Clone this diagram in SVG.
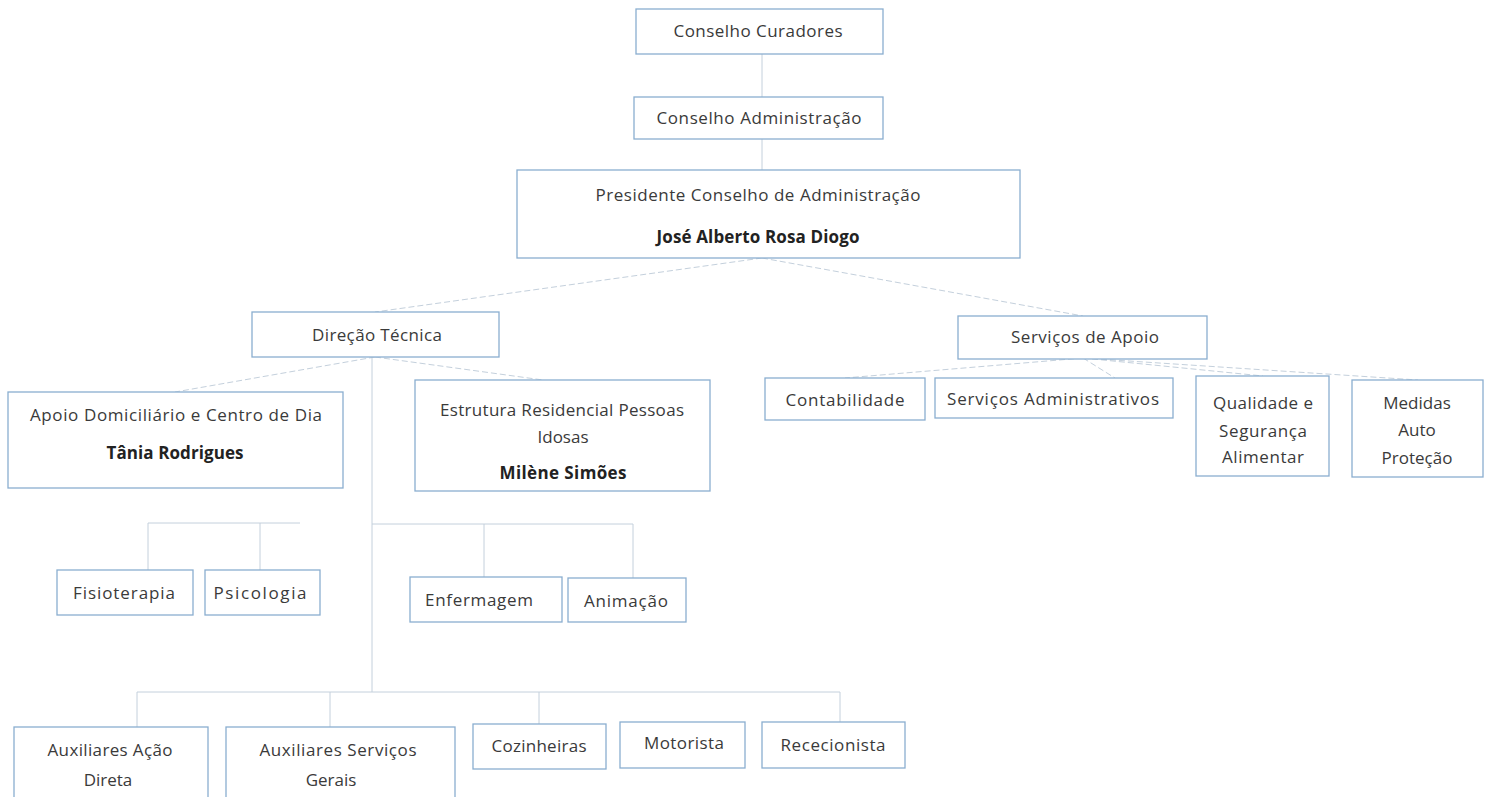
<svg xmlns="http://www.w3.org/2000/svg" width="1490" height="797" viewBox="0 0 1490 797">
<style>
.box{fill:#ffffff;stroke:#8aaed0;stroke-width:1.3}
.t{font-family:"Open Sans","Liberation Sans",sans-serif;font-size:17px;fill:#3a3a3a;text-anchor:middle}
.b{font-weight:bold;fill:#222}
.c{stroke:#c4d0dc;stroke-width:1;fill:none}
.cd{stroke:#c4d0dc;stroke-width:1;fill:none;stroke-dasharray:6 3}
</style>
<rect width="1490" height="797" fill="#ffffff"/>
<g id="connectors">
<line class="c" x1="762" y1="54" x2="762" y2="97"/>
<line class="c" x1="762" y1="139" x2="762" y2="170"/>
<line class="cd" x1="762" y1="258" x2="375" y2="312"/>
<line class="cd" x1="762" y1="258" x2="1083" y2="316"/>
<line class="cd" x1="375" y1="357" x2="175" y2="392"/>
<line class="cd" x1="375" y1="357" x2="543" y2="380"/>
<line class="c" x1="372" y1="357" x2="372" y2="692"/>
<polyline class="c" points="148,570 148,523 300,523"/>
<line class="c" x1="260" y1="523" x2="260" y2="570"/>
<polyline class="c" points="372,524 633,524 633,578"/>
<line class="c" x1="484" y1="524" x2="484" y2="577"/>
<polyline class="c" points="137,727 137,692 840,692 840,722"/>
<line class="c" x1="330" y1="692" x2="330" y2="727"/>
<line class="c" x1="539" y1="692" x2="539" y2="724"/>
<line class="cd" x1="1083" y1="358" x2="845" y2="378"/>
<line class="cd" x1="1083" y1="358" x2="1115" y2="378"/>
<line class="cd" x1="1083" y1="358" x2="1263" y2="376"/>
<line class="cd" x1="1083" y1="358" x2="1418" y2="380"/>
</g>
<g id="conselho-curadores"><rect class="box" x="636" y="9" width="247" height="45"/><text class="t" x="758" y="37" textLength="169" lengthAdjust="spacing">Conselho Curadores</text></g>
<g id="conselho-administracao"><rect class="box" x="634" y="97" width="249" height="42"/><text class="t" x="759" y="124" textLength="205" lengthAdjust="spacing">Conselho Administração</text></g>
<g id="presidente"><rect class="box" x="517" y="170" width="503" height="88"/><text class="t" x="758" y="201" textLength="325" lengthAdjust="spacing">Presidente Conselho de Administração</text><text class="t b" x="758" y="243" textLength="203" lengthAdjust="spacing">José Alberto Rosa Diogo</text></g>
<g id="direcao-tecnica"><rect class="box" x="252" y="312" width="247" height="45"/><text class="t" x="377" y="341" textLength="130" lengthAdjust="spacing">Direção Técnica</text></g>
<g id="servicos-apoio"><rect class="box" x="958" y="316" width="249" height="43"/><text class="t" x="1085" y="343" textLength="148" lengthAdjust="spacing">Serviços de Apoio</text></g>
<g id="apoio-domiciliario"><rect class="box" x="8" y="392" width="335" height="96"/><text class="t" x="176" y="421" textLength="292" lengthAdjust="spacing">Apoio Domiciliário e Centro de Dia</text><text class="t b" x="175" y="459" textLength="137" lengthAdjust="spacing">Tânia Rodrigues</text></g>
<g id="estrutura-residencial"><rect class="box" x="415" y="380" width="295" height="111"/><text class="t" x="562" y="416" textLength="244" lengthAdjust="spacing">Estrutura Residencial Pessoas</text><text class="t" x="563" y="443">Idosas</text><text class="t b" x="563" y="479" textLength="127" lengthAdjust="spacing">Milène Simões</text></g>
<g id="contabilidade"><rect class="box" x="765" y="378" width="160" height="42"/><text class="t" x="845" y="406" textLength="119" lengthAdjust="spacing">Contabilidade</text></g>
<g id="servicos-administrativos"><rect class="box" x="935" y="378" width="238" height="40"/><text class="t" x="1053" y="405" textLength="212" lengthAdjust="spacing">Serviços Administrativos</text></g>
<g id="qualidade"><rect class="box" x="1196" y="376" width="133" height="100"/><text class="t" x="1263" y="409" textLength="100" lengthAdjust="spacing">Qualidade e</text><text class="t" x="1263" y="437" textLength="88" lengthAdjust="spacing">Segurança</text><text class="t" x="1263" y="463" textLength="82" lengthAdjust="spacing">Alimentar</text></g>
<g id="medidas"><rect class="box" x="1352" y="380" width="131" height="97"/><text class="t" x="1417" y="409">Medidas</text><text class="t" x="1417" y="436">Auto</text><text class="t" x="1417" y="464">Proteção</text></g>
<g id="fisioterapia"><rect class="box" x="57" y="570" width="136" height="45"/><text class="t" x="124" y="599" textLength="102" lengthAdjust="spacing">Fisioterapia</text></g>
<g id="psicologia"><rect class="box" x="205" y="570" width="115" height="45"/><text class="t" x="260" y="599" textLength="93" lengthAdjust="spacing">Psicologia</text></g>
<g id="enfermagem"><rect class="box" x="410" y="577" width="152" height="45"/><text class="t" x="479" y="606" textLength="108" lengthAdjust="spacing">Enfermagem</text></g>
<g id="animacao"><rect class="box" x="568" y="578" width="118" height="44"/><text class="t" x="626" y="607" textLength="84" lengthAdjust="spacing">Animação</text></g>
<g id="auxiliares-acao-direta"><rect class="box" x="14" y="727" width="194" height="80"/><text class="t" x="110" y="756" textLength="125" lengthAdjust="spacing">Auxiliares Ação</text><text class="t" x="108" y="786">Direta</text></g>
<g id="auxiliares-servicos-gerais"><rect class="box" x="226" y="727" width="229" height="80"/><text class="t" x="338" y="756" textLength="157" lengthAdjust="spacing">Auxiliares Serviços</text><text class="t" x="331" y="786">Gerais</text></g>
<g id="cozinheiras"><rect class="box" x="473" y="724" width="133" height="45"/><text class="t" x="539" y="752" textLength="95" lengthAdjust="spacing">Cozinheiras</text></g>
<g id="motorista"><rect class="box" x="620" y="722" width="125" height="46"/><text class="t" x="684" y="749" textLength="80" lengthAdjust="spacing">Motorista</text></g>
<g id="rececionista"><rect class="box" x="762" y="722" width="143" height="46"/><text class="t" x="833" y="751" textLength="105" lengthAdjust="spacing">Rececionista</text></g>
</svg>
